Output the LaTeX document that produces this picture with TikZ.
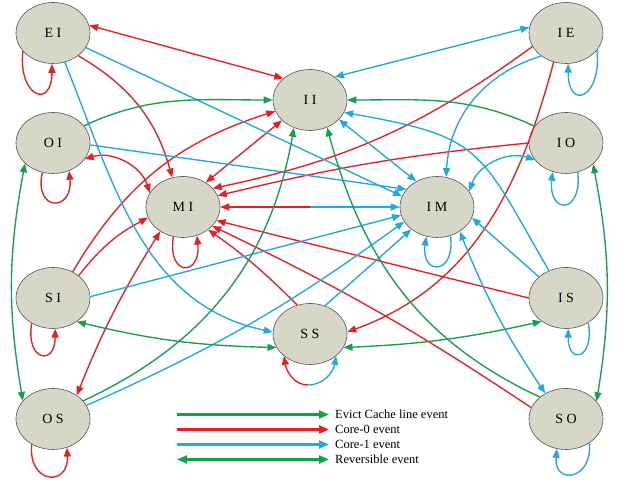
\documentclass[tikz,border=0pt]{standalone}
\usepackage{fontspec}
\setmainfont{Liberation Serif}
\usetikzlibrary{arrows.meta,shapes.geometric}
\definecolor{cred}{RGB}{232,30,38}
\definecolor{cblue}{RGB}{32,168,224}
\definecolor{cgreen}{RGB}{22,160,78}
\definecolor{nfill}{RGB}{214,215,198}
\definecolor{nline}{RGB}{85,85,85}
\tikzset{
  st/.style={ellipse, draw=nline, line width=0.6pt, fill=nfill, minimum width=74pt, minimum height=61pt, inner sep=0pt, font=\fontsize{14}{16}\selectfont},
  ered/.style={draw=cred, line width=1.35pt},
  eblue/.style={draw=cblue, line width=1.35pt},
  egreen/.style={draw=cgreen, line width=1.35pt},
  lgd/.style={line width=2.2pt, >={Triangle[length=10pt,width=8pt]}},
  lgtext/.style={anchor=west, inner sep=0pt, font=\fontsize{12.5}{14}\selectfont},
}
\begin{document}
\begin{tikzpicture}[x=1pt,y=1pt,>={Triangle[length=9pt,width=7pt]}]
\useasboundingbox (0,0) rectangle (622,481);
% nodes
\node[st] (EI) at (53,448) {E I};
\node[st] (OI) at (53,338) {O I};
\node[st] (SI) at (53,183) {S I};
\node[st] (OS) at (53,62) {O S};
\node[st] (II) at (310,381) {I I};
\node[st] (MI) at (183,274) {M I};
\node[st] (IM) at (437,274) {I M};
\node[st] (SS) at (310,147) {S S};
\node[st] (IE) at (566,448) {I E};
\node[st] (IO) at (566,338) {I O};
\node[st] (IS) at (566,183) {I S};
\node[st] (SO) at (566,62) {S O};
% red edges
\draw[ered,<->] (EI.12) -- (II.141);
\draw[ered,->] (EI.-42) to[bend left=22] (MI.110);
\draw[ered,<->] (OI.-27) to[bend left=45] (MI.157);
\draw[ered,->] (SI.53) to[bend left=21] (II.198);
\draw[ered,->] (SI.41) to[bend left=12] (MI.197);
\draw[ered,<->] (OS.45) to[bend left=5] (MI.227);
\draw[ered,<->] (II.216) -- (MI.47);
\draw[ered,->] (IE.202) to[bend left=12] (MI.32);
\draw[ered,->] (IE.247) to[out=255,in=20] (SS.3);
\draw[ered,->] (IO.180) to[bend right=4] (MI.18);
\draw[ered,->] (IS.180) -- (MI.-22);
\draw[ered,->] (SO.162) to[bend right=4] (MI.-33);
\draw[ered,->] (SS.114) to[bend right=5] (MI.-42);
\coordinate (mid) at (310,274);
\draw[ered,->] (mid) -- (MI.east);
\draw[eblue,->] (mid) -- (IM.west);
% blue edges
\draw[eblue,->] (EI.-24) -- (IM.163);
\draw[eblue,->] (EI.-68) to[out=-68,in=168] (SS.177);
\draw[eblue,->] (OI.-3) -- (IM.150);
\draw[eblue,->] (SI.2) -- (IM.193);
\draw[eblue,->] (OS.22) to[bend right=6] (IM.204);
\draw[eblue,<->] (IE.171) -- (II.43);
\draw[eblue,->] (IE.223) to[bend right=35] (IM.73);
\draw[eblue,<->] (IM.26) to[bend left=45] (IO.209);
\draw[eblue,<->] (II.326) -- (IM.129);
\draw[eblue,->] (IS.142) -- (IM.343);
\draw[eblue,->] (IS.122) to[out=120,in=-10,looseness=1.4] (II.340);
\draw[eblue,<->] (IM.313) to[bend right=6] (SO.129);
\draw[eblue,->] (SS.62) -- (IM.221);
% green edges
\draw[egreen,->] (OI.29) to[out=25,in=180] (II.180);
\draw[egreen,<->] (OI.216) to[bend right=10] (OS.149);
\draw[egreen,<->] (SI.315) to[bend right=6] (SS.202);
\draw[egreen,->] (OS.31) to[out=25,in=-100] (II.240);
\draw[egreen,->] (IO.152) to[out=155,in=0] (II.0);
\draw[egreen,<->] (IO.322) to[bend left=10] (SO.30);
\draw[egreen,<->] (SS.338) to[bend right=5] (IS.224);
\draw[egreen,->] (SO.140) to[out=155,in=-75] (II.302);
% self loops
\draw[ered,->] (EI.211) .. controls +(264:46) and +(270:46) .. (EI.268);
\draw[ered,->] (OI.250) .. controls +(258:41) and +(276:41) .. (OI.300);
\draw[ered,->] (SI.230) .. controls +(260:38) and +(270:38) .. (SI.274);
\draw[ered,->] (OS.230) .. controls +(264:40) and +(273:40) .. (OS.296);
\draw[eblue,->] (IE.331) .. controls +(276:48) and +(270:48) .. (IE.274);
\draw[eblue,->] (IO.292) .. controls +(276:43) and +(264:43) .. (IO.245);
\draw[eblue,->] (IS.312) .. controls +(280:37) and +(270:37) .. (IS.274);
\draw[eblue,->] (SO.314) .. controls +(276:37) and +(265:37) .. (SO.253);
\draw[ered,->] (MI.252) .. controls +(261:41) and +(276:41) .. (MI.296);
\draw[eblue,->] (IM.295) .. controls +(278:40) and +(262:40) .. (IM.250);
\coordinate (ssb) at (308,96);
\draw[ered,->] (ssb) to[out=180,in=-80] (SS.220);
\draw[eblue,->] (ssb) to[out=0,in=-100] (SS.320);
% legend
\coordinate (la1) at (177,66.5); \coordinate (lb1) at (329,66.5);
\coordinate (la2) at (177,51.5); \coordinate (lb2) at (329,51.5);
\coordinate (la3) at (177,36.5); \coordinate (lb3) at (329,36.5);
\coordinate (la4) at (177,21.5); \coordinate (lb4) at (329,21.5);
\draw[lgd,draw=cgreen,->] (la1) -- (lb1);
\draw[lgd,draw=cred,->] (la2) -- (lb2);
\draw[lgd,draw=cblue,->] (la3) -- (lb3);
\draw[lgd,draw=cgreen,<->] (la4) -- (lb4);
\node[lgtext] (t1) at (335,66.5) {Evict Cache line event};
\node[lgtext] (t2) at (335,51.5) {Core-0 event};
\node[lgtext] (t3) at (335,36.5) {Core-1 event};
\node[lgtext] (t4) at (335,21.5) {Reversible event};
\end{tikzpicture}
\end{document}
